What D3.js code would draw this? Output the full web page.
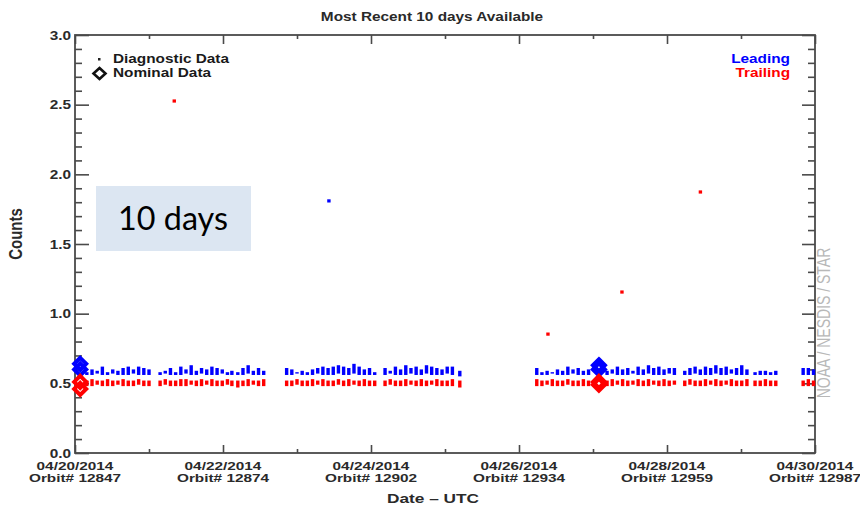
<!DOCTYPE html>
<html>
<head>
<meta charset="utf-8">
<script src="https://cdn.jsdelivr.net/npm/d3@7"></script>
<style>
  html, body { margin: 0; padding: 0; background: #fff; }
  svg { display: block; }
</style>
</head>
<body>
<svg id="chart" width="860" height="509"></svg>
<script>
// ---------------- DATA ----------------
const titleText = "Most Recent 10 days Available";
const yLabel = "Counts";
const xLabel = "Date \u2013 UTC";
const yTicks = [0.0, 0.5, 1.0, 1.5, 2.0, 2.5, 3.0];
const majorDays = [0, 2, 4, 6, 8, 10];
const dateLabels = ["04/20/2014", "04/22/2014", "04/24/2014", "04/26/2014", "04/28/2014", "04/30/2014"];
const orbitLabels = ["Orbit# 12847", "Orbit# 12874", "Orbit# 12902", "Orbit# 12934", "Orbit# 12959", "Orbit# 12987"];
const minorDays = [1, 3, 5, 7, 9];

// diagnostic orbits (days after 04/20/2014 00Z)
const orbitDays = [
  0.16,0.23,0.30,0.37,0.44,0.51,0.58,0.65,0.72,0.79,0.86,0.93,1.00,
  1.15,1.22,1.29,1.36,1.43,1.50,1.57,1.64,1.71,1.78,1.85,1.92,1.99,2.06,2.12,
  2.20,2.27,2.34,2.41,2.48,2.55,
  2.86,2.93,3.00,3.07,3.14,3.21,3.28,3.35,3.42,3.49,3.56,3.63,3.70,3.77,3.84,3.91,3.98,4.05,
  4.19,4.26,4.33,4.40,4.47,4.54,4.61,4.68,4.75,4.82,4.89,4.96,5.03,5.10,
  5.20,
  6.24,6.31,6.38,6.45,6.52,6.59,6.66,6.73,6.80,6.87,6.94,
  7.19,7.26,7.33,7.40,7.47,7.54,7.61,7.68,7.75,7.82,7.89,7.96,8.03,8.10,
  8.24,8.31,8.38,8.45,8.52,8.59,8.66,8.73,8.80,8.87,8.94,9.01,9.08,
  9.19,9.26,9.33,9.40,9.47,
  9.84,9.91,9.98
];
const leadHigh = [
  0.58,0.60,0.59,0.62,0.58,0.60,0.59,0.61,0.62,0.60,0.62,0.61,0.60,
  0.58,0.59,0.61,0.58,0.62,0.60,0.63,0.59,0.61,0.60,0.62,0.61,0.60,0.58,0.59,
  0.58,0.61,0.63,0.59,0.61,0.59,
  0.61,0.60,0.58,0.59,0.58,0.60,0.61,0.62,0.61,0.62,0.63,0.62,0.61,0.64,0.62,0.60,0.61,0.58,
  0.61,0.59,0.62,0.60,0.63,0.61,0.62,0.60,0.63,0.62,0.61,0.60,0.62,0.62,
  0.59,
  0.61,0.58,0.59,0.58,0.60,0.59,0.62,0.60,0.61,0.59,0.60,
  0.59,0.60,0.62,0.60,0.61,0.59,0.62,0.60,0.63,0.61,0.62,0.60,0.61,0.61,
  0.59,0.61,0.62,0.60,0.62,0.61,0.63,0.61,0.62,0.60,0.61,0.63,0.60,
  0.58,0.59,0.59,0.58,0.59,
  0.61,0.61,0.60
];
const leadLow = [
  0.56,0.56,0.57,0.56,0.56,0.57,0.56,0.56,0.56,0.57,0.56,0.56,0.56,
  0.56,0.57,0.56,0.56,0.56,0.57,0.56,0.56,0.57,0.56,0.56,0.56,0.57,0.56,0.56,
  0.56,0.56,0.57,0.56,0.56,0.56,
  0.56,0.56,0.57,0.56,0.56,0.56,0.57,0.56,0.56,0.56,0.57,0.56,0.56,0.57,0.56,0.56,0.56,0.56,
  0.56,0.57,0.56,0.56,0.56,0.57,0.56,0.56,0.57,0.56,0.56,0.56,0.57,0.56,
  0.55,
  0.56,0.56,0.56,0.57,0.56,0.56,0.56,0.57,0.56,0.56,0.56,
  0.56,0.57,0.56,0.56,0.56,0.57,0.56,0.56,0.57,0.56,0.56,0.56,0.57,0.56,
  0.56,0.56,0.57,0.56,0.56,0.56,0.57,0.56,0.56,0.57,0.56,0.56,0.56,
  0.56,0.56,0.56,0.56,0.56,
  0.56,0.56,0.56
];
const trailHigh = [
  0.52,0.53,0.52,0.52,0.53,0.52,0.52,0.53,0.52,0.52,0.53,0.52,0.52,
  0.52,0.53,0.52,0.52,0.53,0.53,0.52,0.52,0.53,0.52,0.53,0.52,0.52,0.53,0.52,
  0.52,0.52,0.53,0.52,0.52,0.53,
  0.52,0.52,0.53,0.52,0.52,0.53,0.52,0.53,0.52,0.52,0.53,0.52,0.53,0.52,0.52,0.53,0.52,0.52,
  0.52,0.53,0.52,0.52,0.53,0.52,0.52,0.53,0.52,0.52,0.53,0.52,0.52,0.53,
  0.52,
  0.53,0.52,0.52,0.53,0.52,0.52,0.53,0.52,0.52,0.53,0.52,
  0.52,0.53,0.52,0.53,0.52,0.52,0.53,0.52,0.53,0.52,0.52,0.53,0.52,0.52,
  0.52,0.53,0.52,0.52,0.53,0.52,0.53,0.52,0.52,0.53,0.52,0.52,0.53,
  0.52,0.52,0.53,0.52,0.52,
  0.52,0.53,0.52
];
const trailLow = [
  0.48,0.48,0.49,0.48,0.48,0.48,0.49,0.48,0.48,0.48,0.49,0.48,0.48,
  0.48,0.49,0.48,0.48,0.48,0.48,0.49,0.48,0.48,0.49,0.48,0.48,0.48,0.49,0.48,
  0.47,0.48,0.48,0.49,0.48,0.48,
  0.48,0.48,0.49,0.48,0.48,0.48,0.49,0.48,0.48,0.48,0.49,0.48,0.48,0.49,0.48,0.48,0.48,0.48,
  0.48,0.49,0.48,0.48,0.48,0.49,0.48,0.48,0.48,0.49,0.48,0.48,0.48,0.48,
  0.47,
  0.48,0.48,0.49,0.48,0.48,0.48,0.49,0.48,0.48,0.48,0.48,
  0.48,0.48,0.49,0.48,0.48,0.49,0.48,0.48,0.48,0.49,0.48,0.48,0.48,0.49,
  0.48,0.49,0.48,0.48,0.48,0.49,0.48,0.48,0.49,0.48,0.48,0.48,0.48,
  0.48,0.48,0.48,0.48,0.48,
  0.48,0.48,0.48
];

// isolated diagnostic outliers
const outlierDays   = [1.34, 3.43, 6.39, 7.39, 8.45];
const outlierValues = [2.527, 1.81, 0.854, 1.156, 1.874];
const outlierSeries = ["Trailing", "Leading", "Trailing", "Trailing", "Trailing"];

// nominal data (large diamonds)
const nominalDays  = [0.07, 0.07, 7.08, 7.08];
const nominalLead  = [0.60, 0.64, 0.60, 0.63];
const nominalTrail = [0.46, 0.51, 0.49, 0.51];

const seriesNames = ["Leading", "Trailing"];
const seriesColors = ["#0000ff", "#ff0000"];
const legendLabels = ["Diagnostic Data", "Nominal Data"];
const creditText = "NOAA / NESDIS / STAR";
const calloutText = "10 days";

// ---------------- DRAW ----------------
const svg = d3.select("#chart");
const L = 75, R = 815, T = 35, B = 453;
const SX = 1.28; // horizontal stretch of the original image text
const FONT = "'Liberation Sans', Arial, Helvetica, sans-serif";
const AX = "#4a4a4a";

const x = d3.scaleLinear().domain([0, 10]).range([L, R]);
const y = d3.scaleLinear().domain([0, 3]).range([B, T]);
const color = d3.scaleOrdinal().domain(seriesNames).range(seriesColors);

const yMinor = d3.range(0, 31).map(i => i / 10).filter(v => Math.round(v * 10) % 5 !== 0);

function stretchText(sel, dx, dy, anchor, sy) {
  sel.attr("x", null).attr("dy", null).attr("y", null)
     .attr("text-anchor", anchor)
     .attr("transform", `translate(${dx},${dy}) scale(${SX},${sy || 1})`);
}
function styleAxis(g) {
  g.select(".domain").remove();
  g.selectAll("line").attr("stroke", AX).attr("stroke-width", 1.6);
}

// Left axis
const gl = svg.append("g").attr("transform", `translate(${L},0)`)
  .call(d3.axisLeft(y).tickValues(yTicks).tickSize(-14).tickSizeOuter(0).tickFormat(d3.format(".1f")));
styleAxis(gl);
gl.selectAll("text").attr("font-family", FONT).attr("font-size", 12).attr("font-weight", "bold").attr("fill", "#2a2a2a")
  .call(s => stretchText(s, -4, 4.3, "end"));
svg.append("g").attr("transform", `translate(${L},0)`)
  .call(d3.axisLeft(y).tickValues(yMinor).tickSize(-7).tickFormat(""))
  .call(styleAxis);

// Right axis
svg.append("g").attr("transform", `translate(${R},0)`)
  .call(d3.axisRight(y).tickValues(yTicks).tickSize(-13).tickFormat(""))
  .call(styleAxis);
svg.append("g").attr("transform", `translate(${R},0)`)
  .call(d3.axisRight(y).tickValues(yMinor).tickSize(-7).tickFormat(""))
  .call(styleAxis);

// Bottom axis
const gb = svg.append("g").attr("transform", `translate(0,${B})`)
  .call(d3.axisBottom(x).tickValues(majorDays).tickSize(-8).tickFormat(""));
styleAxis(gb);
svg.append("g").attr("transform", `translate(0,${B})`)
  .call(d3.axisBottom(x).tickValues(minorDays).tickSize(-4).tickFormat(""))
  .call(styleAxis);
const xl = svg.append("g").attr("font-family", FONT).attr("font-size", 12).attr("font-weight", "bold").attr("fill", "#2a2a2a");
majorDays.forEach((d, i) => {
  xl.append("text").text(dateLabels[i]).call(s => stretchText(s, x(d), 470, "middle", 0.9));
  xl.append("text").text(orbitLabels[i]).call(s => stretchText(s, x(d), 482, "middle", 0.9));
});

// Top axis
svg.append("g").attr("transform", `translate(0,${T})`)
  .call(d3.axisTop(x).tickValues(majorDays).tickSize(-9).tickFormat(""))
  .call(styleAxis);
svg.append("g").attr("transform", `translate(0,${T})`)
  .call(d3.axisTop(x).tickValues(minorDays).tickSize(-4).tickFormat(""))
  .call(styleAxis);

// Frame
svg.append("rect").attr("x", L).attr("y", T).attr("width", R - L).attr("height", B - T)
  .attr("fill", "none").attr("stroke", AX).attr("stroke-width", 1.8);

// Diagnostic dashes
const plot = svg.append("g");
plot.selectAll("rect.lead").data(orbitDays).join("rect").attr("class", "lead")
  .attr("x", d => x(d) - 1.7).attr("width", 3.4)
  .attr("y", (d, i) => y(leadHigh[i])).attr("height", (d, i) => y(leadLow[i]) - y(leadHigh[i]))
  .attr("fill", color("Leading"));
plot.selectAll("rect.trail").data(orbitDays).join("rect").attr("class", "trail")
  .attr("x", d => x(d) - 1.7).attr("width", 3.4)
  .attr("y", (d, i) => y(trailHigh[i])).attr("height", (d, i) => y(trailLow[i]) - y(trailHigh[i]))
  .attr("fill", color("Trailing"));

// Outliers
plot.selectAll("rect.out").data(outlierDays).join("rect").attr("class", "out")
  .attr("x", d => x(d) - 1.6).attr("y", (d, i) => y(outlierValues[i]) - 1.5)
  .attr("width", 3.4).attr("height", 3.2)
  .attr("fill", (d, i) => color(outlierSeries[i]));

// Nominal diamonds
const dia = (cx, cy, w, h) => `M${cx},${cy - h}L${cx + w},${cy}L${cx},${cy + h}L${cx - w},${cy}Z`;
nominalDays.forEach((d, i) => {
  plot.append("path").attr("d", dia(x(d), y(nominalLead[i]), 6, 6))
    .attr("fill", "none").attr("stroke", color("Leading")).attr("stroke-width", 4);
  plot.append("path").attr("d", dia(x(d), y(nominalTrail[i]), 6, 6))
    .attr("fill", "none").attr("stroke", color("Trailing")).attr("stroke-width", 4);
});

// Title
svg.append("text").text(titleText).attr("font-family", FONT).attr("font-size", 12).attr("font-weight", "bold").attr("fill", "#2a2a2a")
  .call(s => stretchText(s, 432, 21, "middle"));

// Axis titles
svg.append("text").text(xLabel).attr("font-family", FONT).attr("font-size", 13.5).attr("font-weight", "bold").attr("fill", "#2a2a2a")
  .call(s => stretchText(s, 433, 503, "middle"));
svg.append("text").text(yLabel).attr("font-family", FONT).attr("font-size", 15).attr("font-weight", "bold").attr("fill", "#2a2a2a")
  .attr("text-anchor", "middle")
  .attr("transform", `translate(22,234) scale(${SX},1) rotate(-90)`);

// Legend (symbols)
svg.append("rect").attr("x", 98).attr("y", 58).attr("width", 2.5).attr("height", 2.5).attr("fill", "#222");
svg.append("path").attr("d", dia(99.5, 73.5, 6, 5.5)).attr("fill", "none").attr("stroke", "#111").attr("stroke-width", 2.6);
const lg = svg.append("g").attr("font-family", FONT).attr("font-size", 12).attr("font-weight", "bold").attr("fill", "#1a1a1a");
lg.append("text").text(legendLabels[0]).call(s => stretchText(s, 113, 62.5, "start"));
lg.append("text").text(legendLabels[1]).call(s => stretchText(s, 113, 76.5, "start"));

// Series legend
const sl = svg.append("g").attr("font-family", FONT).attr("font-size", 12).attr("font-weight", "bold");
seriesNames.forEach((n, i) => {
  sl.append("text").text(n).attr("fill", color(n)).call(s => stretchText(s, 790, 62.5 + i * 14, "end"));
});

// Credit
svg.append("text").text(creditText).attr("font-family", FONT).attr("font-size", 14).attr("fill", "#b8b8b8")
  .attr("text-anchor", "middle")
  .attr("transform", `translate(830,323) scale(${SX},1) rotate(-90)`);

// Callout box
svg.append("rect").attr("x", 96).attr("y", 186).attr("width", 155).attr("height", 65).attr("fill", "#dce6f2");
svg.append("text").text(calloutText).attr("x", 173).attr("y", 230).attr("text-anchor", "middle")
  .attr("font-family", "Lato, 'Open Sans', sans-serif").attr("font-size", 32).attr("fill", "#000")
  .attr("textLength", 110).attr("lengthAdjust", "spacingAndGlyphs");
</script>
</body>
</html>
